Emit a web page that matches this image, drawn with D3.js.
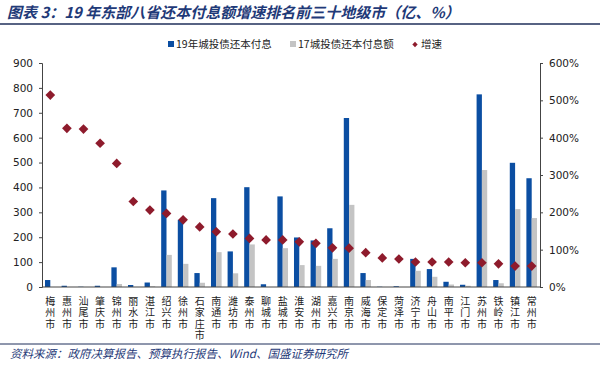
<html><head>
<script src="https://cdn.jsdelivr.net/npm/d3@7"></script>
<style>
  body { margin: 0; background: #fff; }
  .tick text { font-family: "DejaVu Sans", sans-serif; font-size: 10.5px; fill: #222; }
</style>
</head>
<body>
<script>
var cities = ["梅州市","惠州市","汕尾市","肇庆市","锦州市","丽水市","湛江市","绍兴市","徐州市","石家庄市",
  "南通市","潍坊市","泰州市","聊城市","盐城市","淮安市","湖州市","嘉兴市","南京市","威海市",
  "保定市","菏泽市","济宁市","舟山市","南平市","江门市","苏州市","铁岭市","镇江市","常州市"];
var pay19 = [28,5,1,5,79,8,18,388,270,56,357,143,401,11,364,199,187,236,679,56,
  1,3,113,72,21,9,774,28,499,437];
var pay17 = [0,0,0,0,12,0,3,129,93,17,140,55,171,0,156,88,85,113,330,28,
  0,0,65,41,10,5,470,15,313,277];
var growth = [514,425,423,385,331,229,206,197,180,161,148,142,130,126,126,121,117,105,104,92,
  78,75,67,67,67,65,65,62,56,56];
var leftTicks = [0,100,200,300,400,500,600,700,800,900];
var rightTicks = [0,100,200,300,400,500,600];

var W = 600, H = 367;
var svg = d3.select("body").append("svg").attr("width", W).attr("height", H);

var pl = 42, pr = 540, pt = 63, pb = 287;

// title
svg.append("text").attr("x", 7).attr("y", 18)
  .style("font-family", "'Noto Sans CJK SC', sans-serif").style("font-size", "15px")
  .style("font-weight", "bold").style("font-style", "italic").style("fill", "#1f3a78")
  .text("图表 3：19 年东部八省还本付息额增速排名前三十地级市（亿、%）");
svg.append("line").attr("x1", 0).attr("x2", W).attr("y1", 24).attr("y2", 24)
  .style("stroke", "#1f2f5a").style("stroke-width", 1.5);

var x = d3.scaleBand().domain(cities).range([pl, pr]).paddingInner(0.36).paddingOuter(0.18);
var x1 = d3.scaleBand().domain(["a", "b"]).range([0, x.bandwidth()]);
var y = d3.scaleLinear().domain([0, 900]).range([pb, pt]);
var y2 = d3.scaleLinear().domain([0, 600]).range([pb, pt]);

// axes
var gl = svg.append("g").attr("transform", "translate(" + pl + ",0)")
  .call(d3.axisLeft(y).tickValues(leftTicks).tickSize(3).tickPadding(6));
var gr = svg.append("g").attr("transform", "translate(" + pr + ",0)")
  .call(d3.axisRight(y2).tickValues(rightTicks).tickSize(3).tickPadding(6)
    .tickFormat(function(d) { return d + "%"; }));
[gl, gr].forEach(function(g) {
  g.select(".domain").style("stroke", "#444");
  g.selectAll(".tick line").style("stroke", "#444");
});

// bars
var groups = svg.selectAll(".grp").data(cities).enter().append("g")
  .attr("transform", function(d) { return "translate(" + x(d) + ",0)"; });
groups.append("rect")
  .attr("x", x1("a")).attr("width", x1.bandwidth())
  .attr("y", function(d, i) { return y(pay19[i]); })
  .attr("height", function(d, i) { return pb - y(pay19[i]); })
  .style("fill", "#0b4ea2");
groups.append("rect")
  .attr("x", x1("b")).attr("width", x1.bandwidth())
  .attr("y", function(d, i) { return y(pay17[i]); })
  .attr("height", function(d, i) { return pb - y(pay17[i]); })
  .style("fill", "#c4c4c4");

// x axis line
svg.append("line").attr("x1", pl).attr("x2", pr).attr("y1", pb).attr("y2", pb)
  .style("stroke", "#444");

// growth diamonds
var diamond = d3.symbol().type(d3.symbolDiamond2).size(60);
svg.selectAll(".dm").data(growth).enter().append("path")
  .attr("d", diamond)
  .attr("transform", function(d, i) {
    return "translate(" + (x(cities[i]) + x.bandwidth() / 2) + "," + y2(d) + ")";
  })
  .style("fill", "#8e1b2c");

// vertical category labels
svg.append("g").selectAll("text").data(cities).enter().append("text")
  .attr("x", function(d) { return x(d) + x.bandwidth() / 2; })
  .attr("y", 296)
  .style("writing-mode", "vertical-rl").style("text-orientation", "upright")
  .style("letter-spacing", "1.5px")
  .style("font-family", "'Noto Sans CJK SC', sans-serif")
  .style("font-size", "10px").style("fill", "#222")
  .text(function(d) { return d; });

// legend
var lg = svg.append("g").style("font-family", "'Noto Sans CJK SC', sans-serif")
  .style("font-size", "10.5px").style("fill", "#222");
lg.append("rect").attr("x", 168).attr("y", 41).attr("width", 6).attr("height", 6).style("fill", "#0b4ea2");
lg.append("text").attr("x", 176).attr("y", 48).text("19年城投债还本付息");
lg.append("rect").attr("x", 290).attr("y", 41).attr("width", 6).attr("height", 6).style("fill", "#c4c4c4");
lg.append("text").attr("x", 298).attr("y", 48).text("17城投债还本付息额");
lg.append("path").attr("d", d3.symbol().type(d3.symbolDiamond2).size(18))
  .attr("transform", "translate(415,44.5)").style("fill", "#8e1b2c");
lg.append("text").attr("x", 421).attr("y", 48).text("增速");

// source
svg.append("line").attr("x1", 0).attr("x2", W).attr("y1", 344).attr("y2", 344)
  .style("stroke", "#1f2f5a").style("stroke-width", 1);
svg.append("text").attr("x", 10).attr("y", 358)
  .style("font-family", "'Noto Sans CJK SC', sans-serif").style("font-size", "11.5px")
  .style("font-style", "italic").style("fill", "#1f3a78")
  .text("资料来源：政府决算报告、预算执行报告、Wind、国盛证券研究所");
</script>
</body></html>
